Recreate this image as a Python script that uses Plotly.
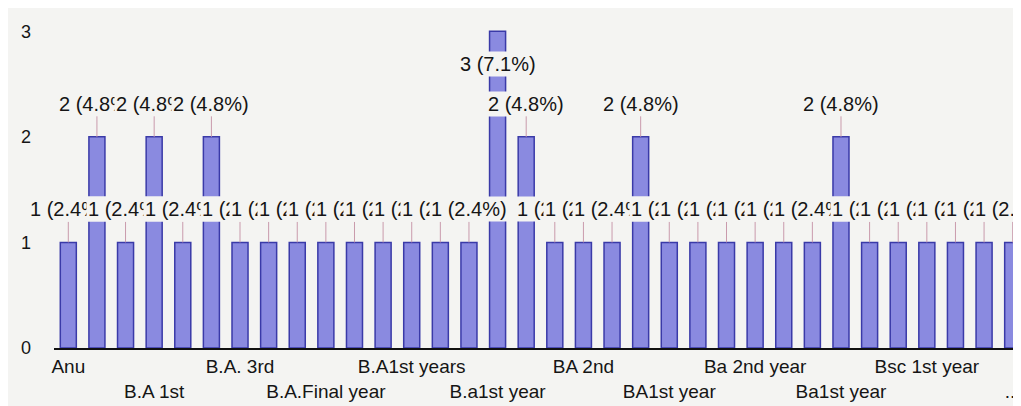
import plotly.graph_objects as go

# ---- data ----
values = [1, 2, 1, 2, 1, 2, 1, 1, 1, 1, 1, 1, 1, 1, 1, 3, 2, 1, 1, 1,
          2, 1, 1, 1, 1, 1, 1, 2, 1, 1, 1, 1, 1, 1]
tick_labels = ["Anu", "B.A 1st", "B.A. 3rd", "B.A.Final year", "B.A1st years",
               "B.a1st year", "BA 2nd", "BA1st year", "Ba 2nd year",
               "Ba1st year", "Bsc 1st year", "..."]
label_step = 3
y_ticks = [0, 1, 2, 3]

# ---- styling ----
BG = "#f4f4f2"
BAR = "#8a8ae0"
BAR_LINE = "#3a3aa8"
LEADER = "#c99aac"
TXT = "#151515"
FONT = "Liberation Sans"
YMAX = 3.22

total = sum(values)
x = list(range(len(values)))

fig = go.Figure(go.Bar(
    x=x, y=values, width=0.56,
    marker=dict(color=BAR, line=dict(color=BAR_LINE, width=1.5)),
    hoverinfo="skip",
))

annotations = []
for i, v in zip(x, values):
    text = f"{v} ({v / total * 100:.1f}%)"
    if v + 0.45 > YMAX:
        annotations.append(dict(
            x=i, y=v, xref="x", yref="y", text=text, showarrow=False,
            yanchor="top", yshift=-20, bgcolor=BG,
            font=dict(size=20, color=TXT, family=FONT)))
    else:
        annotations.append(dict(
            x=i, y=v, xref="x", yref="y", text=text, showarrow=True,
            arrowhead=0, arrowwidth=1, arrowcolor=LEADER, ax=0, ay=-33,
            bgcolor=BG, borderpad=1,
            font=dict(size=20, color=TXT, family=FONT)))

tickvals = x[::label_step]
ticktext = [lbl if k % 2 == 0 else "<br>" + lbl for k, lbl in enumerate(tick_labels)]

fig.update_layout(
    width=1021, height=406,
    margin=dict(l=46, r=2, t=0, b=66),
    paper_bgcolor=BG, plot_bgcolor=BG,
    font=dict(family=FONT, color=TXT),
    showlegend=False,
    annotations=annotations,
    xaxis=dict(range=[-0.5, len(values) - 0.5], tickvals=tickvals, ticktext=ticktext,
               tickangle=0, showgrid=False, zeroline=False, showline=True,
               linecolor="#111111", linewidth=2, ticks="",
               tickfont=dict(size=19, color=TXT, family=FONT)),
    yaxis=dict(range=[0, YMAX], tickvals=y_ticks, showgrid=False, zeroline=False,
               showline=False, ticks="", ticklabelstandoff=22,
               tickfont=dict(size=18, color=TXT, family=FONT)),
)

fig.write_html("out.html")
